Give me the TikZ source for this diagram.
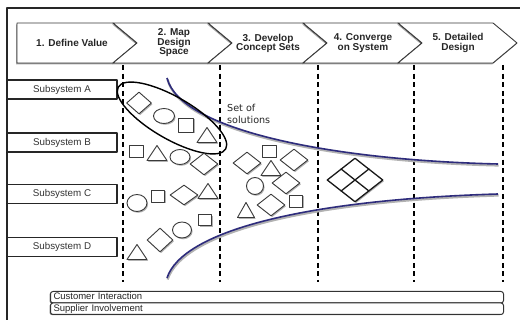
\documentclass[tikz,border=0pt]{standalone}
\usepackage{fontspec}
\setmainfont{Liberation Sans}
\newfontfamily\djv{DejaVu Sans}
\usetikzlibrary{shapes.geometric,shadows,calc}
\definecolor{navy}{HTML}{2E2C7C}
\definecolor{ink}{HTML}{3A3A3A}
\tikzset{
  shd/.style={drop shadow={shadow xshift=1.1pt, shadow yshift=-1.3pt, opacity=0.3, fill=black}},
  chev/.style={draw=ink, line width=0.9, fill=white, drop shadow={shadow xshift=-0.8pt, shadow yshift=-1.4pt, opacity=0.35, fill=black}},
  chevtext/.style={font=\bfseries\fontsize{10}{9.5}\selectfont, align=center, text=black!85, inner sep=0},
  subsys/.style={draw=black!85, line width=1.1, fill=white, minimum width=110, minimum height=19, inner sep=0,
    font=\fontsize{9.8}{11}\selectfont, text=black!80, drop shadow={shadow xshift=-1pt, shadow yshift=-0.8pt, opacity=0.5, fill=black}},
  sol/.style={draw=ink, line width=0.9, fill=white, inner sep=0, shd},
  dia/.style={sol, diamond, minimum width=28, minimum height=22},
  sq/.style={sol, rectangle, minimum width=14, minimum height=12},
  circ/.style={sol, ellipse, minimum width=20, minimum height=16},
  tri/.style={sol, regular polygon, regular polygon sides=3, minimum size=20, xscale=1.15},
  phase/.style={draw=black, line width=2, dash pattern=on 5pt off 3.6pt},
  funnel/.style={draw=navy, line width=1.6, preaction={draw=black!30, line width=2.2, transform canvas={shift={(0.6pt,-1.5pt)}}}},
  bar/.style={draw=black!80, line width=1, fill=white, rounded corners=2.5pt, minimum width=453, minimum height=11.5,
    text width=447, align=left, inner xsep=3, inner ysep=0, font=\fontsize{9.5}{10}\selectfont, text height=7, text depth=2,
    text=black!85, drop shadow={shadow xshift=-1pt, shadow yshift=-0.6pt, opacity=0.5, fill=black}},
}
\begin{document}
\begin{tikzpicture}[x=1pt, y=-1pt, line join=round]
\useasboundingbox (0,0) rectangle (520,320);
\fill[white] (0,0) rectangle (520,320);
% frame
\coordinate (fa) at (520,8);
\coordinate (fb) at (7,8);
\coordinate (fc) at (7,320);
\draw[line width=1.3, black!85] (fa) -- (fb) -- (fc);

% chevrons
\draw[chev] (17,23) -- (113,23) -- (137,43) -- (113,63) -- (17,63) -- cycle;
\foreach \xl/\xr in {113/208, 208/303, 303/398, 398/493}{
  \draw[chev] (\xl,23) -- (\xr,23) -- (\xr+24,43) -- (\xr,63) -- (\xl,63) -- (\xl+24,43) -- cycle;
}
\node[chevtext] (p1) at (72,43) {1. Define Value};
\node[chevtext] (p2) at (174,43) {2. Map\\Design\\Space};
\node[chevtext] (p3) at (268,43.5) {3. Develop\\Concept Sets};
\node[chevtext] (p4) at (363,43) {4. Converge\\on System};
\node[chevtext] (p5) at (458,43) {5. Detailed\\Design};

% phase lines
\foreach \i/\x in {1/123, 2/220, 3/318, 4/414, 5/503}{
  \coordinate (t\i) at (\x,65);
  \coordinate (b\i) at (\x,282);
  \draw[phase] (t\i) -- (b\i);
}

% subsystems
\node[subsys] (sa) at (62,89.5) {Subsystem A};
\node[subsys] (sb) at (62,142.5) {Subsystem B};
\node[subsys] (sc) at (62,194) {Subsystem C};
\node[subsys] (sd) at (62,247) {Subsystem D};

% funnel curves
\coordinate (u0) at (167,78);
\coordinate (u1) at (498,164);
\coordinate (l0) at (167,278);
\coordinate (l1) at (498,194);
\draw[funnel] (u0) .. controls (180,130) and (330,160) .. (u1);
\draw[funnel] (l0) .. controls (182,232) and (300,200) .. (l1);

% set ellipse
\node[draw=black, line width=1.4, ellipse, minimum width=124, minimum height=42, rotate=-30, inner sep=0] (grp) at (172,118) {};

% group A
\node[dia, minimum width=25, minimum height=22] (a1) at (139,103) {};
\node[circ, minimum width=21, minimum height=15] (a2) at (164,116) {};
\node[sq, minimum width=15, minimum height=14] (a3) at (186,125) {};
\node[tri] (a4) at (207,137.5) {};
% row B
\node[sq] (b1s) at (136,151) {};
\node[tri] (b2s) at (157,155.5) {};
\node[circ, minimum height=15] (b3s) at (180,157) {};
\node[dia] (b4s) at (204,164) {};
% row C
\node[circ, minimum height=17] (c1s) at (137,203) {};
\node[sq, minimum width=13] (c2s) at (158,196) {};
\node[dia, minimum height=20] (c3s) at (184,195) {};
\node[tri] (c4s) at (208,193.5) {};
% row D
\node[tri] (d1s) at (137,254.5) {};
\node[dia, minimum width=26, minimum height=24] (d2s) at (160,240) {};
\node[circ, minimum width=19] (d3s) at (182,230) {};
\node[sq, minimum width=13, minimum height=11] (d4s) at (205,220) {};

% concept sets (column 3)
\node[sq] (k1) at (269,151) {};
\node[dia] (k2) at (247,163) {};
\node[tri] (k3) at (271,170.5) {};
\node[dia] (k4) at (294,160) {};
\node[circ, minimum width=17, minimum height=17] (k5) at (255,186) {};
\node[dia] (k6) at (286,183) {};
\node[tri, xscale=0.85] (k7) at (246,212.5) {};
\node[dia] (k8) at (271,205) {};
\node[sq, minimum width=13] (k9) at (296,201) {};

% converged system
\node[draw=black!90, line width=1.3, fill=white, diamond, minimum width=56, minimum height=44, inner sep=0, shd] (sys) at (355,180) {};
\draw[black!90, line width=1.3] ($(sys.west)!0.5!(sys.north)$) -- ($(sys.east)!0.5!(sys.south)$);
\draw[black!90, line width=1.3] ($(sys.north)!0.5!(sys.east)$) -- ($(sys.south)!0.5!(sys.west)$);

% label
\node[anchor=west, align=left, inner sep=0, font=\djv\fontsize{9.6}{12}\selectfont, text=black!85] (lbl) at (227,114) {Set of\\solutions};

% bars
\node[bar, anchor=north west] (cust) at (50,291) {Customer Interaction};
\node[bar, anchor=north west] (supp) at (50,302.5) {Supplier Involvement};
\end{tikzpicture}
\end{document}
